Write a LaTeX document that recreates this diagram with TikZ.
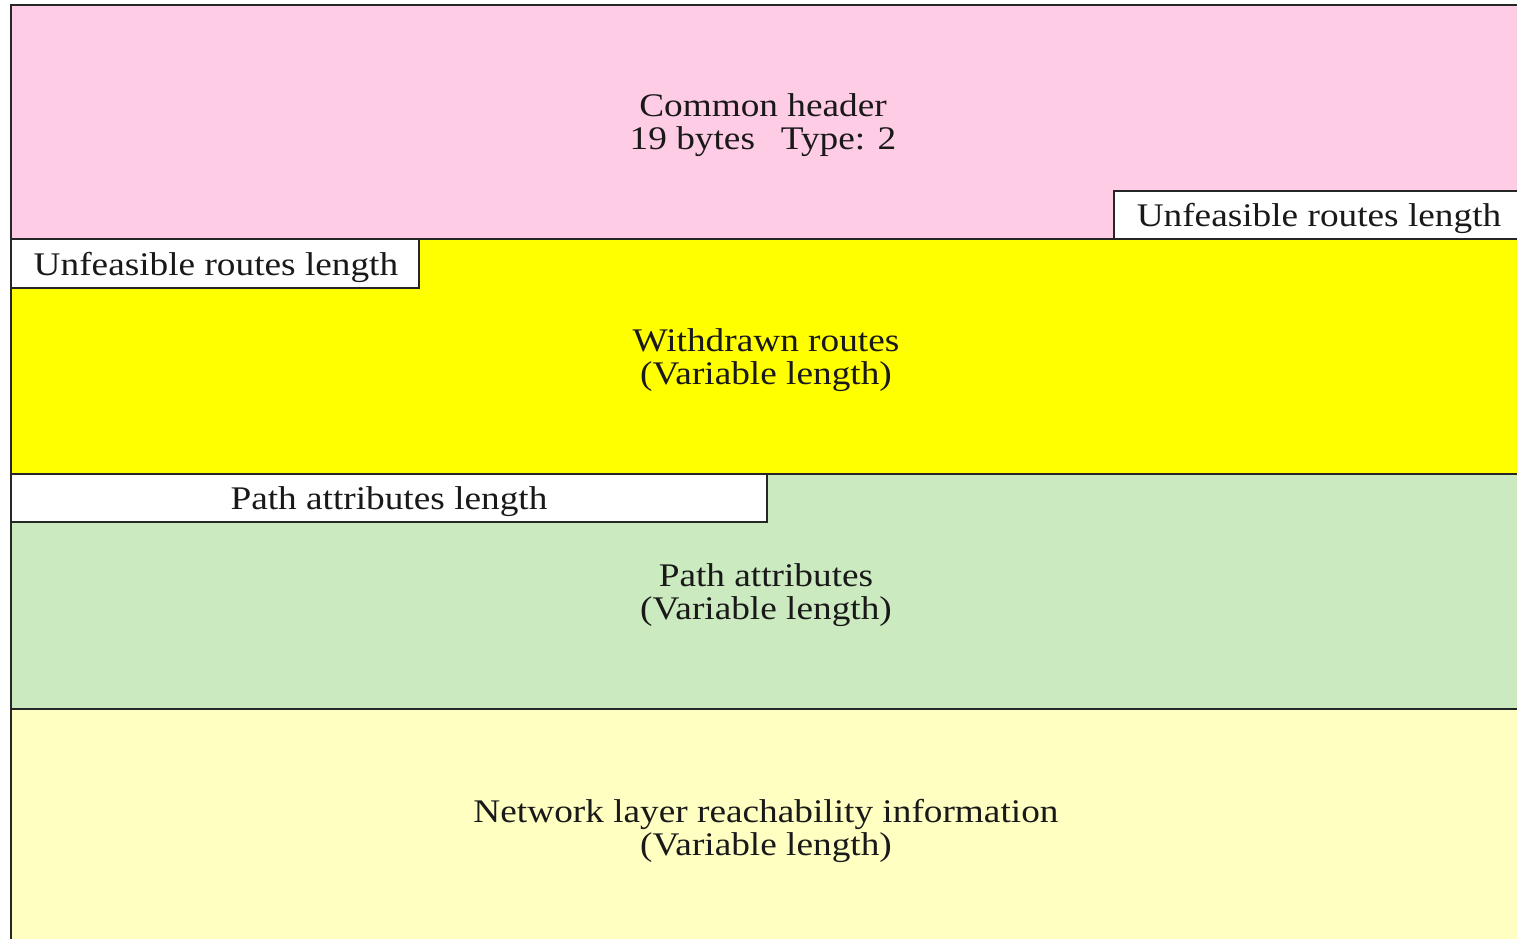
\documentclass[tikz,border=0pt]{standalone}
\usepackage{fontspec}
\setmainfont{Liberation Serif}[FakeStretch=1.13]
\begin{document}
\begin{tikzpicture}[x=1pt,y=-1pt,
  band/.style={draw=black!85,line width=1.6pt},
  lenbox/.style={draw=black!85,line width=1.6pt,fill=white},
  label/.style={font=\fontsize{33}{33}\selectfont,align=center,inner sep=0pt,text=black!90}]
\definecolor{hdrpink}{RGB}{255,204,229}
\definecolor{wdyellow}{RGB}{255,255,0}
\definecolor{pagreen}{RGB}{204,234,191}
\definecolor{nlyellow}{RGB}{255,255,194}
\useasboundingbox (0,0) rectangle (1517,939);
\clip (0,0) rectangle (1517,939);
% message bands
\draw[band,fill=hdrpink]  (11,5)   rectangle (1530,239);
\draw[band,fill=wdyellow] (11,239) rectangle (1530,474);
\draw[band,fill=pagreen]  (11,474) rectangle (1530,709);
\draw[band,fill=nlyellow] (11,709) rectangle (1530,960);
% length fields
\draw[lenbox] (1114,191) rectangle (1530,239);
\draw[lenbox] (11,239) rectangle (419,288);
\draw[lenbox] (11,474) rectangle (767,522);
% texts
\node[label] (hdr) at (763,125.5) {Common header\\19 bytes\hspace{0.5em} Type: 2};
\node[label] (ulen1) at (1319,218.5) {Unfeasible routes length};
\node[label] (ulen2) at (216,267.5) {Unfeasible routes length};
\node[label] (wd) at (766,360.5) {Withdrawn routes\\(Variable length)};
\node[label] (plen) at (389,502) {Path attributes length};
\node[label] (pa) at (766,595.5) {Path attributes\\(Variable length)};
\node[label] (nlri) at (766,830.5) {Network layer reachability information\\(Variable length)};
\end{tikzpicture}
\end{document}
